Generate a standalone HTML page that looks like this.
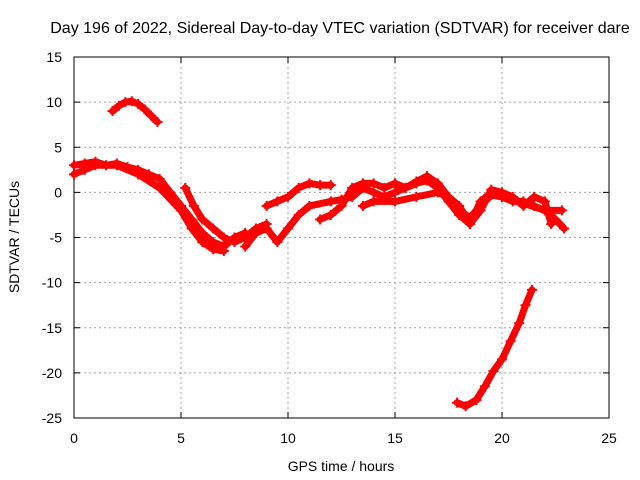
<!DOCTYPE html>
<html><head><meta charset="utf-8"><style>
html,body{margin:0;padding:0;background:#fff;}
svg{display:block;font-family:"Liberation Sans",sans-serif;}
</style></head><body>
<svg id="chart" width="640" height="480">
<text x="340" y="33" font-size="16" text-anchor="middle">Day 196 of 2022, Sidereal Day-to-day VTEC variation (SDTVAR) for receiver dare</text>
<g id="grid"></g>
<g id="axes"></g>
<g id="series"></g>
<text x="341" y="471" font-size="14" text-anchor="middle">GPS time / hours</text>
<text x="19" y="237" font-size="14" text-anchor="middle" transform="rotate(-90 19 237)">SDTVAR / TECUs</text>
</svg>
<script>
const xTicks=[0,5,10,15,20,25];
const yTicks=[15,10,5,0,-5,-10,-15,-20,-25];
const sA=[[1.8,9],[2.1,9.6],[2.4,10],[2.7,10.1],[3.0,9.8],[3.3,9.2],[3.6,8.5],[3.9,7.8]];
const sB=[[0,3],[0.5,3.2],[1,3.4],[1.5,3],[2,3.2],[2.5,2.8],[3,2.5],[3.5,2],[4,1.5],[4.5,0],[5,-1.5],[5.5,-3],[6,-4.5],[6.5,-5.5],[7,-6],[7.5,-5],[8,-4.5]];
const sC=[[0,2],[0.5,2.5],[1,3],[2,3],[3,2],[4,0.5],[5,-2],[5.5,-4],[6,-5.5],[6.5,-6.3],[7,-6.5]];
const sD=[[5.2,0.5],[5.6,-1.5],[6,-3],[6.5,-4],[7,-5],[7.5,-5.5],[8,-5],[8.5,-4],[9,-3.5]];
const sE=[[8,-6],[8.5,-4.5],[9,-4],[9.5,-5.5],[10,-4],[10.5,-2.5],[11,-1.5],[12,-1],[12.5,-0.8],[13,-0.5],[13.5,0.5],[14,0],[14.5,-0.5],[15,0],[15.5,0.5],[16,1],[16.5,1.3],[17,0.5],[17.5,-1],[18,-2.5],[18.5,-3.5],[19,-1],[19.5,0],[20,-0.5],[20.5,-1],[21,-1],[21.5,-1.5],[22,-2],[22.8,-2]];
const sF=[[9,-1.5],[9.5,-1],[10,-0.5],[10.5,0.5],[11,1],[11.5,0.8],[12,0.8]];
const sG=[[11.5,-3],[12,-2.5],[12.5,-1.5],[13,0.5],[13.5,1],[14,1],[14.5,0.5],[15,1],[15.5,0.5],[16,1.2],[16.5,1.8],[17,1],[17.5,-0.5],[18,-1.5],[18.5,-3.5],[19,-2],[19.5,0.3],[20,0],[20.5,-0.5],[21,-1.5],[21.5,-0.5],[22,-1],[22.3,-3.5]];
const sH=[[13.5,-1.5],[14,-1],[15,-1],[16,-0.5],[17,0],[17.5,-0.5],[18,-2],[18.5,-2.8],[19,-1.5],[19.5,-0.3],[20,-0.5],[21,-1.2],[22,-2],[22.5,-3],[22.9,-4]];
const sI=[[17.9,-23.3],[18.3,-23.7],[18.8,-23],[19.2,-21.5],[19.6,-19.8],[20,-18.5],[20.4,-16.5],[20.8,-14.5],[21.1,-12.5],[21.4,-10.8]];
const allSeries=[sA,sB,sC,sD,sE,sF,sG,sH,sI];
const X0=74,X1=609,Y0=57,Y1=418;
const xs=v=>X0+(v-0)/25*(X1-X0);
const ys=v=>Y1-(v+25)/40*(Y1-Y0);
const NS="http://www.w3.org/2000/svg";
function mk(t,a,p){const e=document.createElementNS(NS,t);for(const k in a)e.setAttribute(k,a[k]);p.appendChild(e);return e;}
const grid=document.getElementById('grid'),axes=document.getElementById('axes'),ser=document.getElementById('series');
xTicks.forEach(t=>{const x=xs(t);
 if(t>0&&t<25){const l=mk('line',{x1:x,x2:x,y1:Y0,y2:Y1,stroke:'#a0a0a0','stroke-dasharray':'2,3'},grid);
 
 }
 mk('line',{x1:x,x2:x,y1:Y1,y2:Y1-6,stroke:'#000'},axes);
 mk('line',{x1:x,x2:x,y1:Y0,y2:Y0+6,stroke:'#000'},axes);
 const tx=mk('text',{x:x,y:443,'font-size':14,'text-anchor':'middle'},axes);tx.textContent=t;
 
 
});
yTicks.forEach(t=>{const y=ys(t);
 if(t>-25&&t<15){const l=mk('line',{x1:X0,x2:X1,y1:y,y2:y,stroke:'#a0a0a0','stroke-dasharray':'2,3'},grid);
 
 }
 mk('line',{x1:X0,x2:X0+6,y1:y,y2:y,stroke:'#000'},axes);
 mk('line',{x1:X1,x2:X1-6,y1:y,y2:y,stroke:'#000'},axes);
 const tx=mk('text',{x:62,y:y+5,'font-size':14,'text-anchor':'end'},axes);tx.textContent=t;
 
 
});
mk('rect',{x:X0,y:Y0,width:X1-X0,height:Y1-Y0,fill:'none',stroke:'#000'},axes);
allSeries.forEach((s,i)=>{
 const g=mk('g',{},ser);
 
 
 mk('polyline',{points:s.map(p=>xs(p[0])+','+ys(p[1])).join(' '),fill:'none',stroke:'#f00','stroke-width':7,'stroke-linejoin':'round','stroke-linecap':'round'},g);
 s.forEach(p=>{const x=xs(p[0]),y=ys(p[1]);
  const m=mk('path',{d:`M${x-5},${y}H${x+5}M${x},${y-5}V${y+5}`,stroke:'#f00','stroke-width':2},g);
  
  
 });
});
</script>
</body></html>
